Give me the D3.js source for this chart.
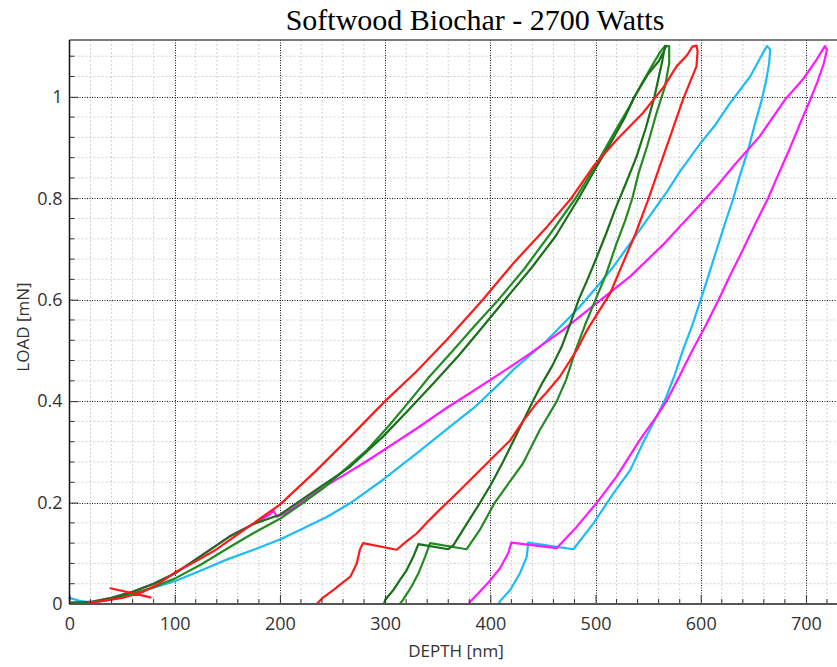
<!DOCTYPE html>
<html>
<head>
<meta charset="utf-8">
<script src="https://cdn.jsdelivr.net/npm/d3@7"></script>
<style>
  html, body { margin: 0; padding: 0; background: #fff; }
  svg { display: block; }
</style>
</head>
<body>
<svg id="chart" width="837" height="667"></svg>
<script>
// ---------------- DATA (depth nm, load mN) ----------------
const chartTitle = "Softwood Biochar - 2700 Watts";
const xAxisLabel = "DEPTH [nm]";
const yAxisLabel = "LOAD [mN]";
const xTickValues = [0, 100, 200, 300, 400, 500, 600, 700];
const xTickLabels = ["0", "100", "200", "300", "400", "500", "600", "700"];
const yTickValues = [0, 0.2, 0.4, 0.6, 0.8, 1];
const yTickLabels = ["0", "0.2", "0.4", "0.6", "0.8", "1"];

const cyanCurve = [
  [0,0.012],[10,0.006],[20,0.003],[30,0.005],[45,0.011],[60,0.02],[80,0.032],[100,0.045],
  [125,0.066],[150,0.088],[175,0.107],[200,0.127],[219,0.146],[245,0.172],[267,0.199],
  [298,0.245],[330,0.297],[362,0.35],[384,0.386],[409,0.435],[422,0.462],[454,0.52],
  [485,0.586],[504,0.632],[517,0.665],[536,0.72],[549,0.758],[568,0.813],[580,0.852],
  [600,0.909],[614,0.945],[627,0.985],[647,1.04],[659,1.086],[663,1.1],[666,1.093],
  [665,1.066],[662,1.03],[658,0.994],[652,0.95],[645,0.895],[638,0.85],[631,0.8],
  [623,0.75],[615,0.698],[607,0.645],[600,0.6],[592,0.55],[583,0.5],[575,0.45],
  [566,0.402],[558,0.369],[545,0.317],[533,0.264],[517,0.218],[498,0.159],[479,0.108],
  [436,0.121],[434.6,0.093],[428,0.06],[419,0.028],[409,0.005],[408,0.0]
];

const magentaCurve = [
  [2,0.003],[20,0.004],[40,0.012],[60,0.024],[80,0.04],[100,0.06],[125,0.095],[152,0.133],
  [175,0.158],[190,0.176],[194,0.184],[197,0.172],[206,0.18],[216,0.194],[235,0.222],
  [260,0.253],[282,0.281],[305,0.312],[330,0.346],[358,0.386],[380,0.415],[400,0.442],
  [420,0.469],[438,0.494],[469,0.54],[501,0.593],[533,0.646],[565,0.71],[580,0.744],
  [599,0.786],[615,0.823],[631,0.863],[656,0.922],[680,0.994],[697,1.034],[710,1.073],
  [718,1.1],[720,1.093],
  [717,1.066],[711,1.03],[704,0.994],[694,0.945],[684,0.895],[674,0.848],[664,0.8],
  [652,0.75],[640,0.698],[628,0.648],[617,0.6],[605,0.55],[592,0.5],[580,0.45],
  [568,0.402],[558,0.37],[542,0.323],[520,0.251],[501,0.199],[482,0.152],[463,0.11],
  [420,0.121],[417,0.1],[409,0.07],[400,0.047],[390,0.024],[381,0.005],[380,0.0]
];

const greenCurveA = [
  [2,0.003],[20,0.003],[40,0.01],[60,0.02],[80,0.033],[100,0.05],[125,0.078],[152,0.112],
  [175,0.14],[200,0.168],[219,0.195],[241,0.228],[260,0.262],[283,0.304],[303,0.35],
  [324,0.402],[342,0.448],[362,0.494],[385,0.548],[409,0.603],[432,0.66],[457,0.73],
  [481,0.8],[501,0.868],[518,0.93],[532,0.98],[545,1.03],[555,1.066],[562,1.09],[566,1.1],
  [570,1.1],[570,1.066],[566,1.02],[558,0.968],[549,0.902],[541,0.85],[535,0.8],
  [528,0.755],[520,0.711],[510,0.65],[500,0.6],[490,0.55],[481,0.5],[472,0.442],
  [463,0.399],[447,0.343],[431,0.277],[418,0.24],[404,0.199],[390,0.146],[377.5,0.108],
  [342.7,0.12],[338,0.093],[331.6,0.06],[325,0.034],[317,0.008],[314,0.0]
];

const greenCurveB = [
  [2,0.002],[20,0.004],[40,0.012],[60,0.024],[80,0.04],[100,0.06],[125,0.095],[152,0.133],
  [175,0.158],[200,0.176],[216,0.199],[235,0.226],[267,0.271],[298,0.33],[322,0.382],
  [346,0.435],[370,0.49],[393,0.547],[414,0.6],[440,0.665],[462,0.725],[484,0.8],
  [501,0.862],[516,0.915],[528,0.96],[537,1.0],[550,1.045],[560,1.07],[565,1.09],[567,1.1],
  [566,1.1],[563,1.066],[556,1.0],[548,0.94],[539,0.882],[529,0.83],[519,0.78],
  [510,0.73],[501,0.683],[492,0.638],[484,0.6],[476,0.553],[468,0.508],[459,0.47],
  [450,0.438],[441,0.402],[427,0.343],[412,0.28],[401,0.237],[390,0.199],[374,0.146],
  [365,0.116],[360,0.108],[331.6,0.118],[326.8,0.093],[320.5,0.067],[314,0.047],
  [308,0.028],[300,0.008],[299,0.0]
];

const redCurve = [
  [77,0.013],[39,0.031], null,
  [18,0.002],[35,0.007],[50,0.012],[70,0.024],[85,0.04],[100,0.062],[120,0.084],[140,0.108],
  [170,0.152],[200,0.196],[235,0.264],[267,0.33],[300,0.40],[330,0.459],[360,0.524],
  [392,0.598],[422,0.672],[454,0.744],[477,0.80],[498,0.863],[520,0.915],[545,0.968],
  [565,1.02],[577,1.06],[587,1.082],[592,1.099],[596,1.101],
  [597,1.09],[596,1.06],[590,1.03],[583,0.994],[572,0.928],[561,0.863],[550,0.797],
  [538,0.73],[524,0.662],[514,0.613],[504,0.58],[492,0.54],[482,0.50],[466,0.448],
  [453,0.416],[444,0.396],[431,0.36],[419,0.323],[400,0.284],[384,0.251],[365,0.212],
  [352,0.186],[340,0.161],[330,0.139],[320,0.123],[311,0.107],
  [279,0.12],[276,0.107],[273,0.08],[267,0.054],[259,0.041],[251,0.028],[240,0.011],[235,0.0]
];

const seriesList = [
  { name: "cyan", data: cyanCurve, color: "#1cbcf4" },
  { name: "magenta", data: magentaCurve, color: "#ff19ff" },
  { name: "greenA", data: greenCurveA, color: "#228b22" },
  { name: "greenB", data: greenCurveB, color: "#187018" },
  { name: "red", data: redCurve, color: "#ff1a1a" }
];

// ---------------- LAYOUT ----------------
const svg = d3.select("#chart");
const pLeft = 69.5, pRight = 837.5, pTop = 40, pBottom = 604;
const x = d3.scaleLinear().domain([0, 730]).range([pLeft, pRight]);
const y = d3.scaleLinear().domain([0, 1.112]).range([pBottom, pTop]);

const xMinor = d3.range(0, 731, 20).filter(v => v % 100 !== 0);
const yMinor = d3.range(0, 1.11, 0.04).map(v => +v.toFixed(2)).filter(v => Math.abs(v*5 - Math.round(v*5)) > 1e-6);

// minor grid
const grid = svg.append("g");
grid.selectAll(".vxm").data(xMinor).join("line")
  .attr("x1", d => x(d)).attr("x2", d => x(d)).attr("y1", pTop).attr("y2", pBottom)
  .attr("stroke", "#d2d2d2").attr("stroke-width", 1).attr("stroke-dasharray", "2,2");
grid.selectAll(".hym").data(yMinor).join("line")
  .attr("x1", pLeft).attr("x2", pRight).attr("y1", d => y(d)).attr("y2", d => y(d))
  .attr("stroke", "#d2d2d2").attr("stroke-width", 1).attr("stroke-dasharray", "2,2");
// major grid
grid.selectAll(".vx").data(xTickValues.slice(1)).join("line")
  .attr("x1", d => Math.round(x(d)) + 0.5).attr("x2", d => Math.round(x(d)) + 0.5).attr("y1", pTop).attr("y2", pBottom)
  .attr("stroke", "#111").attr("stroke-width", 1).attr("stroke-dasharray", "1,1.5");
grid.selectAll(".hy").data(yTickValues.slice(1)).join("line")
  .attr("x1", pLeft).attr("x2", pRight).attr("y1", d => Math.round(y(d)) + 0.5).attr("y2", d => Math.round(y(d)) + 0.5)
  .attr("stroke", "#111").attr("stroke-width", 1).attr("stroke-dasharray", "1,1.5");

// curves
const line = d3.line().defined(d => d !== null).x(d => x(d[0])).y(d => y(d[1]));
svg.append("g").selectAll("path").data(seriesList).join("path")
  .attr("d", s => line(s.data))
  .attr("fill", "none")
  .attr("stroke", s => s.color)
  .attr("stroke-width", 2.2)
  .attr("stroke-linejoin", "round")
  .attr("stroke-linecap", "round");

// axes
const tickFont = "'Open Sans', 'Noto Sans', sans-serif";
const xAxis = svg.append("g").attr("transform", `translate(0,${pBottom})`)
  .call(d3.axisBottom(x).tickValues(xTickValues).tickFormat((d, i) => xTickLabels[i]).tickSize(-9).tickPadding(13));
xAxis.select(".domain").remove();
xAxis.selectAll(".tick line").attr("stroke", "#333");
xAxis.selectAll("text").attr("font-family", tickFont).attr("font-size", 18).attr("fill", "#333");
svg.append("g").attr("transform", `translate(0,${pBottom})`).selectAll("line").data(xMinor).join("line")
  .attr("x1", d => x(d)).attr("x2", d => x(d)).attr("y1", 0).attr("y2", -5).attr("stroke", "#333");

const yAxis = svg.append("g").attr("transform", `translate(${pLeft},0)`)
  .call(d3.axisLeft(y).tickValues(yTickValues).tickFormat((d, i) => yTickLabels[i]).tickSize(-9).tickPadding(7));
yAxis.select(".domain").remove();
yAxis.selectAll(".tick line").attr("stroke", "#333");
yAxis.selectAll("text").attr("font-family", tickFont).attr("font-size", 18).attr("fill", "#333");
svg.append("g").attr("transform", `translate(${pLeft},0)`).selectAll("line").data(yMinor).join("line")
  .attr("x1", 0).attr("x2", 5).attr("y1", d => y(d)).attr("y2", d => y(d)).attr("stroke", "#333");

// frame lines
svg.append("line").attr("x1", pLeft).attr("x2", pRight).attr("y1", pTop).attr("y2", pTop)
  .attr("stroke", "#555").attr("stroke-width", 1.5);
svg.append("line").attr("x1", pLeft).attr("x2", pRight).attr("y1", pBottom).attr("y2", pBottom)
  .attr("stroke", "#555").attr("stroke-width", 2);
svg.append("line").attr("x1", pLeft).attr("x2", pLeft).attr("y1", pTop).attr("y2", pBottom)
  .attr("stroke", "#111").attr("stroke-width", 1.5);

// labels
svg.append("text").attr("x", 475).attr("y", 30).attr("text-anchor", "middle")
  .attr("font-family", "'Liberation Serif', 'Times New Roman', serif").attr("font-size", 30).attr("fill", "#000")
  .text(chartTitle);
svg.append("text").attr("x", 456).attr("y", 657).attr("text-anchor", "middle")
  .attr("font-family", tickFont).attr("font-size", 17).attr("fill", "#333").text(xAxisLabel);
svg.append("text").attr("transform", "translate(29,327) rotate(-90)").attr("text-anchor", "middle")
  .attr("font-family", tickFont).attr("font-size", 17).attr("fill", "#333").text(yAxisLabel);
</script>
</body>
</html>
